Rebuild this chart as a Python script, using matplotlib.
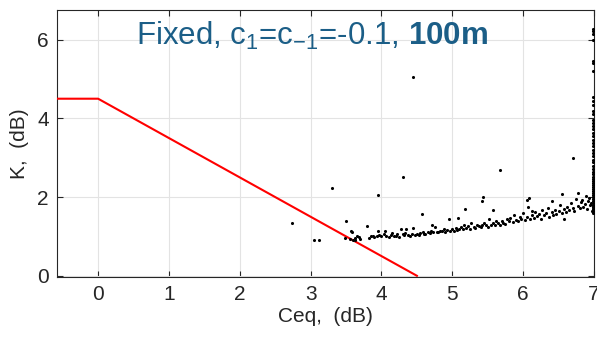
import matplotlib
matplotlib.use("Agg")
import matplotlib.pyplot as plt

plt.rcParams['font.family'] = ['Liberation Sans', 'DejaVu Sans']
plt.rcParams['mathtext.fontset'] = 'custom'
plt.rcParams['mathtext.rm'] = 'Liberation Sans'
plt.rcParams['mathtext.it'] = 'Liberation Sans'
plt.rcParams['mathtext.bf'] = 'Liberation Sans:bold'

# red limit line
line_x = [-0.6, 0.0, 4.5]
line_y = [4.5, 4.5, 0.0]

# isolated points
out_x = [2.74, 3.05, 3.12, 3.30, 3.48, 3.50, 3.57, 3.58, 3.80, 3.95, 4.30, 4.45,
         4.57, 5.18, 5.42, 5.43, 5.67, 6.70]
out_y = [1.33, 0.92, 0.91, 2.23, 0.95, 1.40, 1.15, 1.10, 1.27, 2.05, 2.52, 5.06,
         1.58, 1.70, 1.90, 2.00, 2.68, 3.00]

# main cloud
cloud_x = [3.55, 3.60, 3.62, 3.65, 3.68, 3.70, 3.63, 3.82, 3.85, 3.88, 3.90, 3.93,
           3.95, 3.97, 4.00, 4.03, 4.05, 4.07, 4.10, 4.13, 4.15, 4.18, 4.20, 4.22,
           4.25, 4.28, 4.30, 4.32, 4.33, 4.35, 4.37, 4.40, 4.43, 4.45, 4.48, 4.50,
           4.53, 4.55, 4.58, 4.60, 4.62, 4.65, 4.68, 4.70, 4.72, 4.73, 4.75, 4.78,
           4.80, 4.82, 4.85, 4.88, 4.90, 4.93, 4.95, 4.97, 5.00, 5.02, 5.05, 5.07,
           5.08, 5.10, 5.12, 5.15, 5.17, 5.20, 5.22, 5.25, 5.27, 5.30, 5.32, 5.35,
           5.37, 5.40, 5.42, 5.45, 5.47, 5.50, 5.52, 5.55, 5.57, 5.60, 5.62, 5.65,
           5.67, 5.70, 5.72, 5.75, 5.77, 5.80, 5.82, 5.85, 5.87, 5.90, 5.92, 5.95,
           5.97, 6.00, 6.02, 6.05, 6.07, 6.10, 6.12, 6.13, 6.15, 6.17, 6.20, 6.22,
           6.25, 6.27, 6.30, 6.32, 6.35, 6.37, 6.40, 6.42, 6.45, 6.47, 6.50, 6.52,
           6.55, 6.57, 6.58, 6.60, 6.62, 6.65, 6.67, 6.70, 6.72, 6.75, 6.77, 6.80,
           6.82, 6.85, 6.87, 6.90, 6.92, 6.94, 6.96, 6.97, 6.98, 6.05, 6.08, 6.40,
           6.55, 6.78, 5.57, 6.88, 6.93, 6.83]
cloud_y = [0.93, 0.92, 0.95, 1.00, 0.98, 0.93, 0.90, 0.97, 1.00, 1.02, 0.98, 1.01,
           1.15, 1.03, 1.00, 1.05, 1.15, 1.02, 0.99, 1.04, 1.08, 1.00, 1.02, 1.06,
           0.98, 1.20, 1.05, 1.03, 1.08, 1.20, 1.04, 1.02, 1.06, 1.22, 1.03, 1.05,
           1.04, 1.08, 1.10, 1.07, 1.05, 1.12, 1.09, 1.15, 1.30, 1.10, 1.25, 1.12,
           1.10, 1.15, 1.13, 1.18, 1.12, 1.17, 1.45, 1.14, 1.20, 1.15, 1.22, 1.17,
           1.48, 1.20, 1.25, 1.18, 1.30, 1.22, 1.27, 1.20, 1.33, 1.25, 1.22, 1.30,
           1.27, 1.24, 1.30, 1.35, 1.28, 1.25, 1.45, 1.30, 1.33, 1.28, 1.38, 1.35,
           1.30, 1.40, 1.35, 1.32, 1.45, 1.38, 1.48, 1.36, 1.55, 1.42, 1.40, 1.50,
           1.45, 1.60, 1.42, 1.50, 1.75, 1.45, 1.55, 1.65, 1.48, 1.62, 1.52, 1.58,
           1.45, 1.68, 1.55, 1.60, 1.72, 1.50, 1.62, 1.55, 1.68, 1.58, 1.65, 1.80,
           1.60, 1.45, 1.70, 1.62, 1.75, 1.68, 1.85, 1.72, 1.65, 1.95, 1.78, 1.72,
           1.88, 1.75, 1.82, 1.70, 1.90, 1.80, 1.85, 1.65, 1.75, 1.92, 1.98, 1.90,
           2.07, 2.10, 1.68, 2.02, 1.97, 1.93]

# column of points piled at the right edge
edge_x = 6.985
edge_y = [1.60, 1.65, 1.70, 1.75, 1.80, 1.85, 1.90, 1.95, 2.00, 2.05, 2.10, 2.15,
          2.20, 2.25, 2.30, 2.35, 2.40, 2.45, 2.50, 2.58, 2.65, 2.72, 2.80, 2.88,
          2.95, 3.05, 3.12, 3.20, 3.30, 3.38, 3.45, 3.55, 3.62, 3.72, 3.80, 3.88,
          3.95, 4.10, 4.20, 4.35, 4.45, 4.55, 5.20, 5.42, 5.45, 6.00, 6.15, 6.22,
          6.28]

fig, ax = plt.subplots(figsize=(5.97, 3.39), dpi=100)
fig.subplots_adjust(left=0.0955, right=0.995, bottom=0.183, top=0.97)

ax.plot(line_x, line_y, color='red', lw=1.5, zorder=3)
ax.scatter(out_x + cloud_x + [edge_x] * len(edge_y), out_y + cloud_y + edge_y,
           s=5, color='black', linewidths=0, zorder=4)

ax.set_xlim(-0.58, 7.0)
ax.set_ylim(-0.03, 6.75)
ax.set_xticks(range(0, 8))
ax.set_yticks([0, 2, 4, 6])
ax.grid(True, color='#e3e3e3', lw=0.8)
ax.set_axisbelow(True)
ax.tick_params(direction='in', top=True, right=True, length=4, labelsize=15,
               colors='#262626', labelcolor='#262626', pad=6)
for s in ax.spines.values():
    s.set_color('#262626')
    s.set_linewidth(0.8)

ax.set_xlabel('Ceq,  (dB)', fontsize=15, color='#262626', labelpad=2)
ax.set_ylabel('K,  (dB)', fontsize=15, color='#262626', labelpad=6)

ax.text(0.475, 0.905, r'Fixed, c$_1$=c$_{-1}$=-0.1, $\mathbf{100m}$',
        transform=ax.transAxes, ha='center', va='center', fontsize=22.5,
        color='#1b5e87')

fig.savefig('out.png', dpi=100)
